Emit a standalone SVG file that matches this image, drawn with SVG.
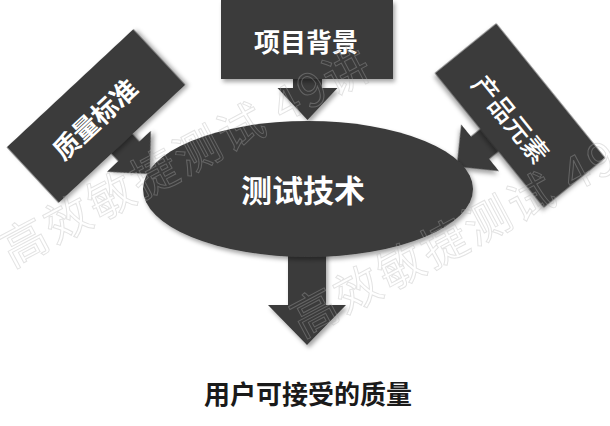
<svg xmlns="http://www.w3.org/2000/svg" width="610" height="426" viewBox="0 0 610 426">
  <style>
    .shape { fill: #3b3b3b; filter: url(#shadow); }
    .lbl { fill: #ffffff; font-family: "Noto Sans CJK SC", "Noto Sans", sans-serif; font-weight: bold; text-anchor: middle; dominant-baseline: central; }
    .wm { fill: none; stroke: #b0b0b0; stroke-width: 1; opacity: 0.35; font-family: "Noto Sans CJK SC", "Noto Sans", sans-serif; font-size: 46px; letter-spacing: 3px; }
  </style>
  <defs>
    <filter id="shadow" x="-20%" y="-20%" width="140%" height="140%">
      <feDropShadow dx="2" dy="3" stdDeviation="2" flood-color="#000" flood-opacity="0.35"/>
    </filter>
  </defs>
  <rect width="610" height="426" fill="#ffffff"/>

  <g id="connectors">
    <path class="shape" transform="translate(307.5,75)" d="M-14.5 0H14.5V13H30L0 45L-30 13H-14.5Z"/>
    <path class="shape" transform="translate(122,144) rotate(-43)" d="M-14.5 -4H14.5V10H30L0 41L-30 10H-14.5Z"/>
    <path class="shape" transform="translate(489.4,140.2) rotate(51)" d="M-14.5 -4H14.5V12H30L0 42L-30 12H-14.5Z"/>
    <path class="shape" d="M288 245H326V305H346L307 345L268 305H288Z"/>
  </g>

  <g id="node-top">
    <rect class="shape" x="221" y="0" width="172" height="79"/>
    <text class="lbl" x="306" y="40" font-size="26">项目背景</text>
  </g>

  <g id="node-left">
    <rect class="shape" x="-86.5" y="-38" width="173" height="76" transform="translate(96,116) rotate(-43)"/>
    <text class="lbl" font-size="26" transform="translate(94,118) rotate(-43)">质量标准</text>
  </g>

  <g id="node-right">
    <rect class="shape" x="-86.5" y="-39.5" width="173" height="79" transform="translate(520,115.5) rotate(51)"/>
    <text class="lbl" font-size="26" style="font-weight:500" transform="translate(512,118) rotate(51)">产品元素</text>
  </g>

  <g id="node-center">
    <ellipse class="shape" cx="308" cy="189" rx="165" ry="68"/>
    <text class="lbl" x="303" y="188" font-size="31">测试技术</text>
  </g>

  <g id="node-result">
    <text x="308" y="392" font-size="26" font-weight="bold" fill="#1a1a1a" text-anchor="middle" dominant-baseline="central" font-family="Noto Sans CJK SC, Noto Sans, sans-serif">用户可接受的质量</text>
  </g>

  <g id="watermark">
    <text class="wm" transform="translate(12,268) rotate(-28)">高效敏捷测试 49讲</text>
    <text class="wm" transform="translate(302,338) rotate(-28)">高效敏捷测试 49讲</text>
  </g>
</svg>
